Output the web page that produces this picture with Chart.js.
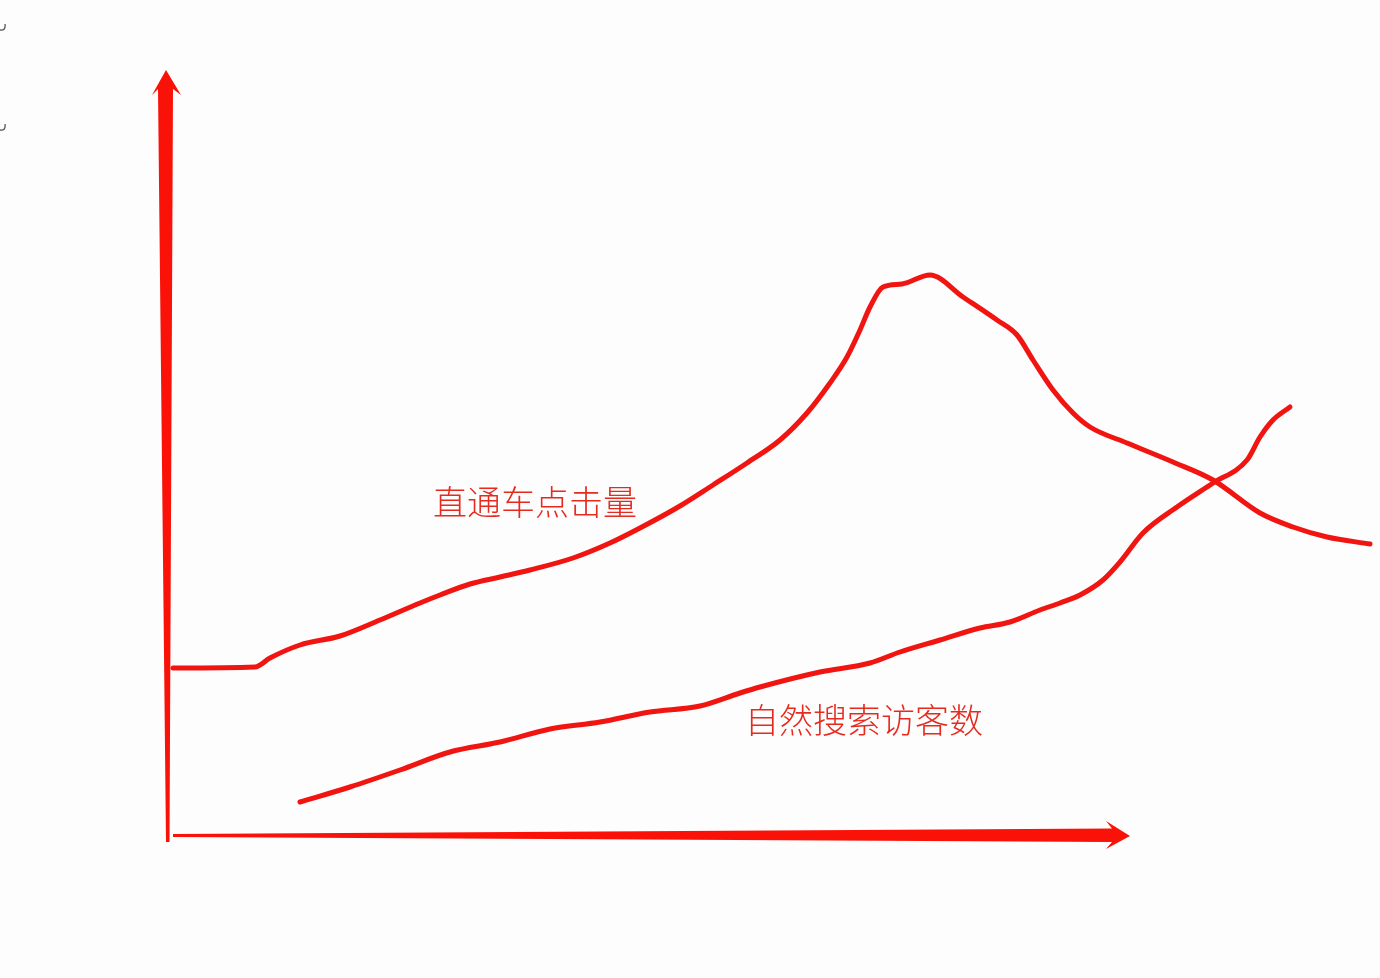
<!DOCTYPE html>
<html lang="zh-CN">
<head>
<meta charset="utf-8">
<title>直通车点击量与自然搜索访客数</title>
<script src="https://cdn.jsdelivr.net/npm/chart.js@4.4.1/dist/chart.umd.min.js"></script>
<style>
  html, body { margin: 0; padding: 0; background: #fdfdfd; }
  #wrap { width: 1380px; height: 978px; position: relative; }
</style>
</head>
<body>
<div id="wrap"><canvas id="grafico"></canvas></div>
<script>
const nomesSeries = ['直通车点击量', '自然搜索访客数'];

// 直通车点击量
const cliquesX = [0.5, 8.7, 10.2, 13.2, 17.2, 21.2, 25.2, 27.2, 30.2, 33.2, 36.2, 40.5, 44.2, 47.2, 51.2, 54.5,
  57.9, 61.2, 63.9, 66.2, 67.9, 69.2, 70.2, 71.5, 73.4, 76.2, 79.5, 82.9, 84.9, 86.5, 88.5, 90.5, 92.2,
  95.9, 100.5, 104.5, 109.2, 112.5, 115.9, 120.2];
const cliquesY = [16.7, 16.8, 17.7, 19.0, 19.9, 21.5, 23.2, 24.0, 25.1, 25.8, 26.5, 27.7, 29.2, 30.7, 32.9, 35.0,
  37.2, 39.5, 42.2, 45.2, 47.8, 50.5, 52.8, 54.8, 55.1, 56.0, 53.8, 51.5, 50.0, 47.5, 44.5, 42.2, 40.8,
  39.2, 37.3, 35.5, 32.2, 30.8, 29.8, 29.1];

// 自然搜索访客数
const visitasX = [13.2, 18.2, 23.2, 28.2, 33.2, 38.2, 43.2, 48.2, 53.2, 57.2, 59.2, 65.2, 70.2, 73.2,
  77.2, 81.2, 84.2, 87.2, 89.2, 91.2, 93.5, 95.2, 97.5, 100.9, 104.5, 107.9, 109.2, 110.5, 112.2];
const visitasY = [3.3, 4.8, 6.5, 8.3, 9.3, 10.6, 11.3, 12.3, 12.9, 14.2, 14.8, 16.3, 17.2, 18.3,
  19.5, 20.7, 21.3, 22.5, 23.2, 24.0, 25.5, 27.3, 30.2, 32.8, 35.2, 37.5, 39.8, 41.5, 42.8];

const vermelho = '#f01510';

// eixos desenhados como setas
const pluginSetas = {
  id: 'setas',
  beforeDatasetsDraw(chart, args, opts) {
    const { ctx, scales: { x, y } } = chart;
    const ox = x.getPixelForValue(0);
    const oy = y.getPixelForValue(0);
    const topo = y.getPixelForValue(opts.yFim);
    const fimX = x.getPixelForValue(opts.xFim);
    ctx.save();
    ctx.fillStyle = '#fa1208';

    // seta vertical
    ctx.beginPath();
    ctx.moveTo(ox - 2, oy + 7);
    ctx.lineTo(ox + 1.5, oy + 7);
    ctx.lineTo(ox + 5, topo + 14);
    ctx.lineTo(ox + 13, topo + 20);
    ctx.lineTo(ox - 2, topo - 5);
    ctx.lineTo(ox - 16, topo + 20);
    ctx.lineTo(ox - 10, topo + 14);
    ctx.closePath();
    ctx.fill();

    // seta horizontal
    ctx.beginPath();
    ctx.moveTo(ox + 5, oy - 1);
    ctx.lineTo(fimX - 18, oy - 6.5);
    ctx.lineTo(fimX - 24, oy - 14);
    ctx.lineTo(fimX, oy + 1);
    ctx.lineTo(fimX - 24, oy + 14);
    ctx.lineTo(fimX - 18, oy + 7);
    ctx.lineTo(ox + 5, oy + 2);
    ctx.closePath();
    ctx.fill();

    // marcas cortadas no canto
    ctx.strokeStyle = '#555';
    ctx.lineWidth = 1.3;
    [24, 124].forEach(yy => {
      ctx.beginPath();
      ctx.moveTo(5, yy);
      ctx.quadraticCurveTo(6, yy + 7, 0, yy + 6);
      ctx.stroke();
    });
    ctx.restore();
  }
};

const pluginRotulos = {
  id: 'rotulos',
  afterDatasetsDraw(chart, args, opts) {
    const { ctx, scales: { x, y } } = chart;
    ctx.save();
    ctx.font = '300 34px "Noto Sans CJK SC", "Noto Sans", sans-serif';
    ctx.fillStyle = '#e62a1e';
    ctx.textBaseline = 'middle';
    ctx.textAlign = 'left';
    opts.posicoes.forEach((p, i) => {
      ctx.fillText(nomesSeries[i], x.getPixelForValue(p[0]), y.getPixelForValue(p[1]));
    });
    ctx.restore();
  }
};

function montarPontos(xs, ys) {
  return xs.map((v, i) => ({ x: v, y: ys[i] }));
}

function estiloLinha(nome, pontos) {
  return {
    label: nome,
    data: pontos,
    borderColor: vermelho,
    borderWidth: 5,
    pointRadius: 0,
    cubicInterpolationMode: 'monotone',
    borderCapStyle: 'round',
    borderJoinStyle: 'round'
  };
}

new Chart(document.getElementById('grafico').getContext('2d'), {
  type: 'line',
  data: {
    datasets: [
      estiloLinha(nomesSeries[0], montarPontos(cliquesX, cliquesY)),
      estiloLinha(nomesSeries[1], montarPontos(visitasX, visitasY))
    ]
  },
  options: {
    responsive: true,
    maintainAspectRatio: false,
    animation: false,
    layout: { padding: { left: 168, right: 2, top: 75, bottom: 143 } },
    scales: {
      x: { type: 'linear', min: 0, max: 121, display: false },
      y: { type: 'linear', min: 0, max: 76, display: false }
    },
    plugins: {
      legend: { display: false },
      tooltip: { enabled: false },
      setas: { xFim: 96.2, yFim: 76 },
      rotulos: { posicoes: [[26.5, 33.3], [57.7, 11.5]] }
    }
  },
  plugins: [pluginSetas, pluginRotulos]
});
</script>
</body>
</html>
